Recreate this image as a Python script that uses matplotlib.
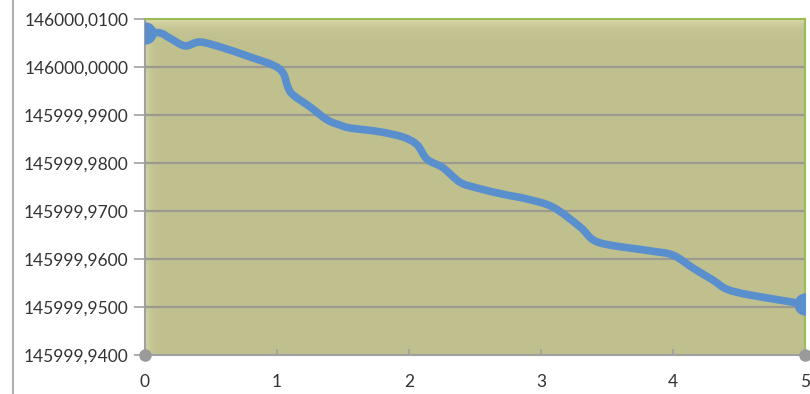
import numpy as np
import matplotlib.pyplot as plt
from matplotlib.lines import Line2D
from matplotlib.patches import PathPatch
from matplotlib.path import Path
from matplotlib.ticker import FuncFormatter

# measured series
t = [0.0, 0.114, 0.189, 0.303, 0.417, 0.591, 0.795, 0.970, 1.045, 1.083,
     1.121, 1.250, 1.379, 1.477, 1.553, 1.780, 1.955, 2.061, 2.136, 2.258,
     2.386, 2.515, 2.712, 2.894, 3.091, 3.295, 3.394, 3.523, 3.826, 4.000,
     4.152, 4.303, 4.409, 4.583, 5.0]
value = [146000.0071, 146000.0071, 146000.0060, 146000.0044, 146000.0052,
         146000.0040, 146000.0021, 146000.0004, 145999.9988, 145999.9958,
         145999.9942, 145999.9917, 145999.9890, 145999.9879, 145999.9873,
         145999.9865, 145999.9854, 145999.9838, 145999.9808, 145999.9790,
         145999.9760, 145999.9748, 145999.9735, 145999.9725, 145999.9708,
         145999.9667, 145999.9640, 145999.9629, 145999.9617, 145999.9608,
         145999.9581, 145999.9556, 145999.9537, 145999.9525, 145999.9506]

x_ticks = [0, 1, 2, 3, 4, 5]
y_ticks = [145999.94, 145999.95, 145999.96, 145999.97, 145999.98,
           145999.99, 146000.00, 146000.01]

LINE = '#5a8fce'


def smooth_path(xs, ys, k=1 / 6):
    """Bezier path through the points, like a spreadsheet 'smoothed line'."""
    xs, ys = np.asarray(xs, float), np.asarray(ys, float)
    n = len(xs)
    verts = [(xs[0], ys[0])]
    codes = [Path.MOVETO]
    for i in range(n - 1):
        p0 = max(i - 1, 0)
        p3 = min(i + 2, n - 1)
        c1 = (xs[i] + (xs[i + 1] - xs[p0]) * k, ys[i] + (ys[i + 1] - ys[p0]) * k)
        c2 = (xs[i + 1] - (xs[p3] - xs[i]) * k, ys[i + 1] - (ys[p3] - ys[i]) * k)
        verts += [c1, c2, (xs[i + 1], ys[i + 1])]
        codes += [Path.CURVE4] * 3
    return Path(verts, codes)


plt.rcParams['font.family'] = ['Lato', 'DejaVu Sans']

fig = plt.figure(figsize=(8.1, 3.94), dpi=100)
ax = fig.add_axes([145 / 810, 39 / 394, 660 / 810, 336 / 394])

y0, y1 = y_ticks[0], y_ticks[-1]
ax.set_xlim(0, 5)
ax.set_ylim(y0, y1)

# olive plot area with a light glow along the top and left edges
h, w = 300, 600
yy = np.linspace(0, 1, h)[:, None]
xx = np.linspace(0, 1, w)[None, :]
glow = np.maximum(np.exp(-yy / 0.018), 0.8 * np.exp(-xx / 0.007))
base = np.array([0.753, 0.753, 0.561])
light = np.array([0.86, 0.86, 0.68])
img = base + (light - base) * glow[..., None]
ax.imshow(img, extent=[0, 5, y0, y1], aspect='auto', origin='upper',
          zorder=0, interpolation='bilinear')

for yt in y_ticks[1:-1]:
    ax.axhline(yt, color='#9a9a90', lw=1.6, zorder=1)

# smoothed series line, drawn in data coordinates
ax.add_patch(PathPatch(smooth_path(t, value), facecolor='none', edgecolor=LINE,
                       lw=5.5, capstyle='round', joinstyle='round', zorder=3))
ax.plot([t[0], t[-1]], [value[0], value[-1]], ls='none', marker='o',
        markersize=15, color=LINE, zorder=4)

# grey corner dots on the category axis
ax.plot([0, 5], [y0, y0], ls='none', marker='o', markersize=8,
        color='#9a9a9a', clip_on=False, zorder=5)

for side in ('top', 'right'):
    ax.spines[side].set_color('#9bbb59')
    ax.spines[side].set_linewidth(1.5)
for side in ('left', 'bottom'):
    ax.spines[side].set_color('#a0a0a0')
    ax.spines[side].set_linewidth(1.5)

ax.set_xticks(x_ticks)
ax.set_yticks(y_ticks)
ax.yaxis.set_major_formatter(FuncFormatter(lambda v, p: f'{v:.4f}'.replace('.', ',')))
ax.tick_params(axis='y', direction='out', length=8, width=1.2, color='#a0a0a0',
               labelsize=12.5, labelcolor='#333333', pad=4)
ax.tick_params(axis='x', direction='in', length=4, width=1.2, color='#a0a0a0',
               labelsize=12.5, labelcolor='#333333', pad=14)

# chart area border on the left
fig.add_artist(Line2D([13 / 810, 13 / 810], [0, 1], color='#b0b0b0', lw=1.5))

fig.savefig('out.png', dpi=100)
